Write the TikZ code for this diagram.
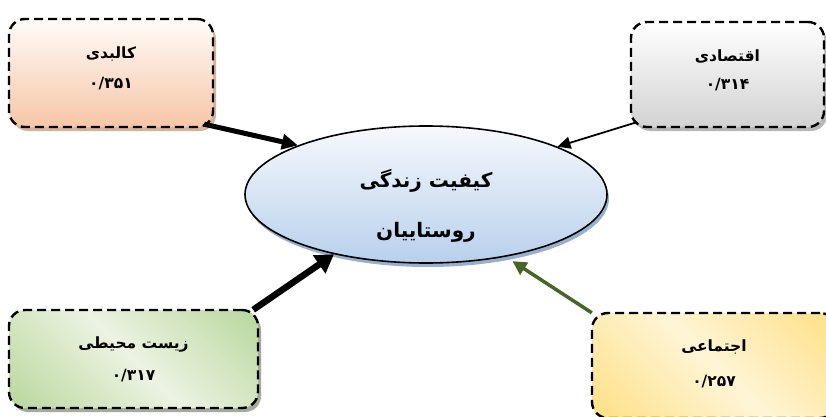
\documentclass[tikz,border=0pt]{standalone}
\usepackage{fontspec}
\TeXXeTstate=1
\newfontfamily\fa[Script=Arabic]{DejaVu Sans}
\usetikzlibrary{shapes.geometric,shadows,arrows.meta,calc}
\definecolor{peachA}{RGB}{255,252,250}
\definecolor{peachB}{RGB}{246,198,166}
\definecolor{peachS}{RGB}{205,160,130}
\definecolor{grayA}{RGB}{255,255,255}
\definecolor{grayB}{RGB}{210,210,210}
\definecolor{grayS}{RGB}{165,165,165}
\definecolor{greenA}{RGB}{163,204,128}
\definecolor{greenB}{RGB}{236,243,226}
\definecolor{greenS}{RGB}{140,150,130}
\definecolor{yelA}{RGB}{255,215,100}
\definecolor{yelB}{RGB}{255,245,214}
\definecolor{yelS}{RGB}{170,160,130}
\definecolor{ellA}{RGB}{246,249,253}
\definecolor{ellB}{RGB}{184,208,236}
\definecolor{ellS}{RGB}{140,168,200}
\definecolor{arrgreen}{RGB}{72,100,38}
\pgfdeclarehorizontalshading{greenband}{100bp}{color(0bp)=(greenA); color(50bp)=(greenB); color(100bp)=(greenA)}
\pgfdeclarehorizontalshading{yelband}{100bp}{color(0bp)=(yelA); color(50bp)=(yelB); color(100bp)=(yelA)}
\tikzset{
  box/.style={rectangle, rounded corners=16pt, draw=black, line width=2.4pt,
    dash pattern=on 9pt off 5pt, align=center, inner sep=0pt,
    font=\fa\bfseries\fontsize{15.5}{16}\selectfont},
  boxshadow/.style={drop shadow={shadow xshift=3pt, shadow yshift=-4pt, fill=#1, draw=none, opacity=0.8}},
  conn/.style={draw=black, line cap=butt},
}
\begin{document}
\begin{tikzpicture}[x=1pt,y=1pt]
\useasboundingbox (0,0) rectangle (826,416);
% central ellipse
\node[ellipse, draw=black, line width=1.6pt, minimum width=362pt, minimum height=137pt,
  inner sep=0pt, top color=ellA, bottom color=ellB, align=center,
  drop shadow={shadow xshift=2pt, shadow yshift=-4pt, fill=ellS, draw=none, opacity=0.9},
  font=\fa\bfseries\fontsize{20}{22}\selectfont] (ell) at (426,221.5)
  {\rule{0pt}{40pt}\beginR کیفیت زندگی\endR\\[28pt]\beginR روستاییان\endR};
% boxes
\node[box, top color=peachA, bottom color=peachB, boxshadow=peachS,
  minimum width=204pt, minimum height=108pt] (tl) at (111,343)
  {\beginR کالبدی\endR\\[14pt]۰/۳۵۱\rule[-10pt]{0pt}{10pt}};
\node[box, top color=grayA, bottom color=grayB, boxshadow=grayS,
  minimum width=193pt, minimum height=105pt] (tr) at (727.5,341.5)
  {\beginR اقتصادی\endR\\[12pt]۰/۳۱۴\rule[-10pt]{0pt}{10pt}};
\node[box, shading=greenband, shading angle=45, boxshadow=greenS,
  minimum width=249pt, minimum height=98pt] (bl) at (133.5,57)
  {\beginR زیست محیطی\endR\\[16pt]۰/۳۱۷};
\node[box, shading=yelband, shading angle=45, boxshadow=yelS,
  minimum width=244pt, minimum height=105pt] (br) at (714,50.5)
  {\beginR اجتماعی\endR\\[19pt]۰/۲۵۷\rule[-5pt]{0pt}{5pt}};
% connectors
\draw[conn, line width=5pt, -{Triangle[length=16pt,width=15pt]}]
  ($(tl.south east)+(-10,4)$) -- (ell.159);
\draw[conn, line width=1.8pt, -{Triangle[length=13pt,width=12pt]}]
  ($(tr.south west)+(7,6)$) -- (ell.20);
\draw[conn, line width=6.5pt, -{Triangle[length=18pt,width=21pt]}]
  ($(bl.north east)+(-6,-1)$) -- (ell.213);
\draw[conn, draw=arrgreen, line width=3.5pt, -{Triangle[length=14pt,width=14pt]}, shorten >=8pt]
  ($(br.north west)+(1,-1)$) -- (ell.-38);
\end{tikzpicture}
\end{document}
